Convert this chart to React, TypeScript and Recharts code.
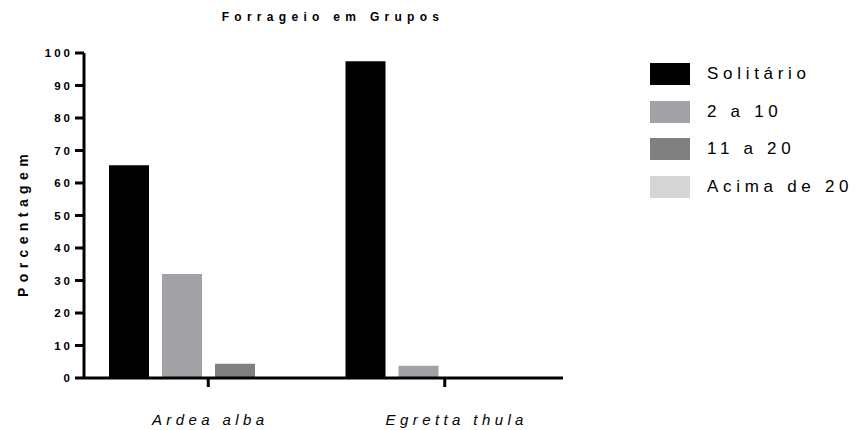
import { BarChart, Bar, XAxis, YAxis } from 'recharts';

const species = ['Ardea alba', 'Egretta thula'];
const solitario = [65.5, 97.5];
const doisA10 = [32, 3.8];
const onzeA20 = [4.4, 0];
const acima20 = [0, 0];
const yTicks = [0, 10, 20, 30, 40, 50, 60, 70, 80, 90, 100];

const series = [
  { key: 'solitario', name: 'Solitário', color: '#000000' },
  { key: 'doisA10', name: '2 a 10', color: '#a2a2a6' },
  { key: 'onzeA20', name: '11 a 20', color: '#808080' },
  { key: 'acima20', name: 'Acima de 20', color: '#d6d6d6' },
];

const data = species.map((name, i) => ({
  name,
  solitario: solitario[i],
  doisA10: doisA10[i],
  onzeA20: onzeA20[i],
  acima20: acima20[i],
}));

const font = '"Liberation Sans", Arial, sans-serif';

const XTick = (props: any) => {
  const { x, y, payload, index } = props;
  // the second label sits a bit right of its tick in the original
  const shift = index === 1 ? 12 : 2;
  return (
    <text x={x + shift} y={y + 36} textAnchor="middle" fontFamily={font} fontSize={15} fontStyle="italic" letterSpacing={4.4} fill="#000">
      {payload.value}
    </text>
  );
};

const App = () => {
  return (
    <div style={{ position: 'absolute', left: 0, top: 0, width: 857, height: 430, background: '#fff' }}>
      <BarChart
        width={857}
        height={430}
        data={data}
        margin={{ top: 53, right: 294, bottom: 0, left: 0 }}
        barSize={40}
        barGap={13}
      >
        <text x={333} y={21} textAnchor="middle" fontFamily={font} fontSize={12} fontWeight="bold" letterSpacing={5.3} fill="#000">
          Forrageio em Grupos
        </text>
        <text
          x={0}
          y={0}
          transform="translate(28,223) rotate(-90)"
          textAnchor="middle"
          fontFamily={font}
          fontSize={14}
          fontWeight="bold"
          letterSpacing={5.4}
          fill="#000"
        >
          Porcentagem
        </text>
        <XAxis
          dataKey="name"
          height={52}
          padding={{ left: 6, right: 0 }}
          axisLine={{ stroke: '#000', strokeWidth: 3 }}
          tickLine={{ stroke: '#000', strokeWidth: 3 }}
          tickSize={9}
          tick={<XTick />}
        />
        <YAxis
          domain={[0, 100]}
          ticks={yTicks}
          width={84}
          interval={0}
          axisLine={{ stroke: '#000', strokeWidth: 3 }}
          tickLine={{ stroke: '#000', strokeWidth: 3 }}
          tickSize={9}
          tick={{ fontFamily: font, fontSize: 11.5, fontWeight: 'bold', fill: '#000', letterSpacing: 3 }}
        />
        {series.map((s) => (
          <Bar key={s.key} dataKey={s.key} name={s.name} fill={s.color} isAnimationActive={false} />
        ))}
      </BarChart>
      <div style={{ position: 'absolute', left: 650, top: 55, fontFamily: font }}>
        {series.map((s) => (
          <div key={s.key} style={{ display: 'flex', alignItems: 'center', height: 37.7 }}>
            <div style={{ width: 40, height: 22, background: s.color }} />
            <span style={{ marginLeft: 17, fontSize: 17, letterSpacing: 4.7, color: '#000', whiteSpace: 'nowrap' }}>{s.name}</span>
          </div>
        ))}
      </div>
    </div>
  );
};

export default App;
